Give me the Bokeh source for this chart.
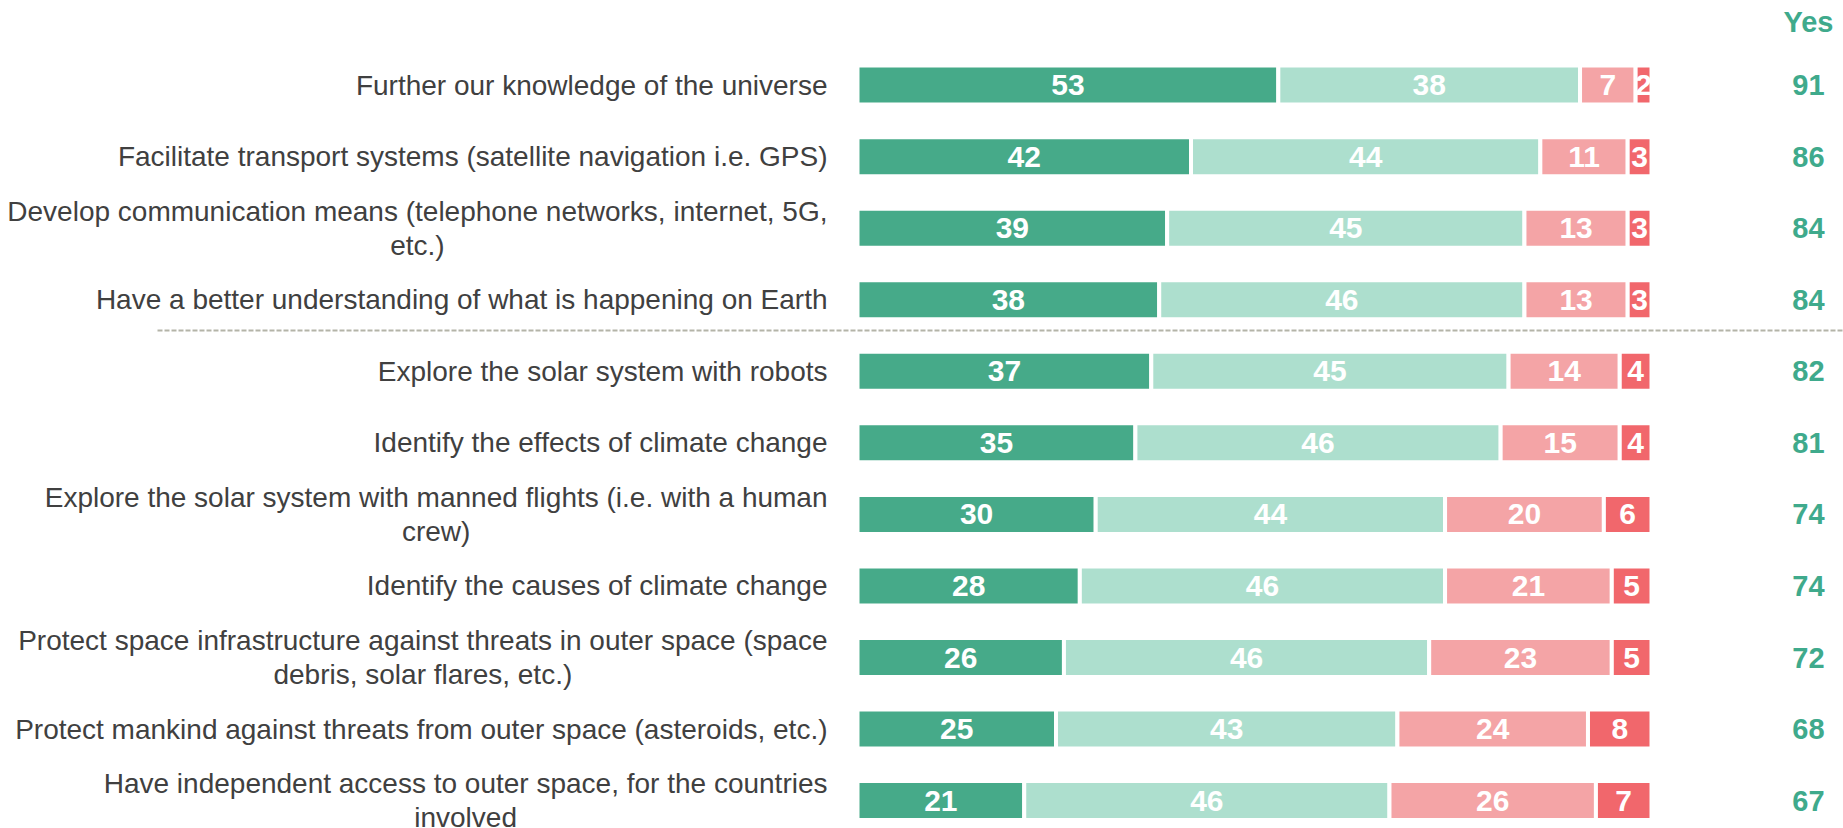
from bokeh.plotting import figure
from bokeh.models import Range1d, ColumnDataSource
from bokeh.core.properties import value
from bokeh.embed import file_html
from bokeh.resources import INLINE

# ---------------- data ----------------
categories = [
    "Further our knowledge of the universe",
    "Facilitate transport systems (satellite navigation i.e. GPS)",
    "Develop communication means (telephone networks, internet, 5G,\netc.)",
    "Have a better understanding of what is happening on Earth",
    "Explore the solar system with robots",
    "Identify the effects of climate change",
    "Explore the solar system with manned flights (i.e. with a human\ncrew)",
    "Identify the causes of climate change",
    "Protect space infrastructure against threats in outer space (space\ndebris, solar flares, etc.)",
    "Protect mankind against threats from outer space (asteroids, etc.)",
    "Have independent access to outer space, for the countries\ninvolved",
]
yes_strong = [53, 42, 39, 38, 37, 35, 30, 28, 26, 25, 21]
yes_some   = [38, 44, 45, 46, 45, 46, 44, 46, 46, 43, 46]
no_some    = [7, 11, 13, 13, 14, 15, 20, 21, 23, 24, 26]
no_strong  = [2, 3, 3, 3, 4, 4, 6, 5, 5, 8, 7]
yes_total  = [91, 86, 84, 84, 82, 81, 74, 74, 72, 68, 67]
yes_header = "Yes"

series = [yes_strong, yes_some, no_some, no_strong]
colors = ["#46AA89", "#ADDFCE", "#F4A4A6", "#F1676C"]

# ---------------- layout constants ----------------
W, H = 1843, 828
PX_PER_UNIT = 7.94
ROW_PX = 71.55
x0_px = 857      # pixel of x=0 within plot
y0_px = 84.6     # pixel of row 0 centre within plot

x_start = -x0_px / PX_PER_UNIT
x_end = (W - x0_px) / PX_PER_UNIT
y_top = -y0_px / ROW_PX
y_bottom = (H - y0_px) / ROW_PX

p = figure(width=W, height=H, output_backend="svg", toolbar_location=None,
           x_range=Range1d(x_start, x_end), y_range=Range1d(y_bottom, y_top),
           x_axis_location=None, y_axis_location=None, min_border=0)
p.grid.visible = False
p.outline_line_color = None
p.background_fill_color = "white"
p.border_fill_color = "white"

rows = list(range(len(categories)))

# stacked bars
left = [0] * len(rows)
for vals, col in zip(series, colors):
    right = [l + v for l, v in zip(left, vals)]
    src = ColumnDataSource(dict(y=rows, left=left, right=right,
                                mid=[(l + r) / 2 for l, r in zip(left, right)],
                                lab=[str(v) for v in vals]))
    p.hbar(y="y", left="left", right="right", height=39 / ROW_PX, source=src,
           fill_color=col, line_color="white", line_width=4)
    p.text(x="mid", y="y", text="lab", source=src, text_color="white",
           text_font=value("Liberation Sans"), text_font_style="bold",
           text_font_size="30px", text_align="center", text_baseline="middle")
    left = right

# category labels (right-anchored, lines centred)
lab_src = ColumnDataSource(dict(x=[-30 / PX_PER_UNIT] * len(rows), y=rows, t=categories))
p.text(x="x", y="y", text="t", source=lab_src, anchor=value("center_right"),
       text_align="center", text_baseline="middle", text_color="#404040",
       text_font=value("Liberation Sans"), text_font_size="28px",
       text_line_height=1.1)

# Yes totals
yes_x = (1808 - 857) / PX_PER_UNIT
ysrc = ColumnDataSource(dict(x=[yes_x] * len(rows), y=rows, t=[str(v) for v in yes_total]))
p.text(x="x", y="y", text="t", source=ysrc, text_color="#3FAA8C",
       text_font=value("Liberation Sans"), text_font_style="bold",
       text_font_size="29px", text_align="center", text_baseline="middle")
p.text(x=[yes_x], y=[(21 - 84.6) / ROW_PX], text=[yes_header], text_color="#3FAA8C",
       text_font=value("Liberation Sans"), text_font_style="bold",
       text_font_size="29px", text_align="center", text_baseline="middle")

# dashed separator between the two groups
sep_y = (330 - 84.6) / ROW_PX
p.segment(x0=[(157 - 857) / PX_PER_UNIT], y0=[sep_y], x1=[x_end], y1=[sep_y],
          line_color="#B4B4A8", line_width=2, line_dash="5 2")

open("out.html", "w").write(file_html(p, INLINE))
